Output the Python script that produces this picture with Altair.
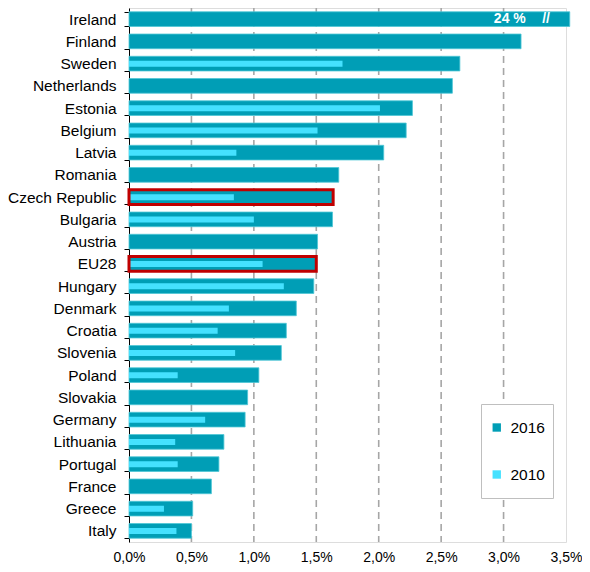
import altair as alt
import pandas as pd

countries = ["Ireland", "Finland", "Sweden", "Netherlands", "Estonia", "Belgium", "Latvia",
             "Romania", "Czech Republic", "Bulgaria", "Austria", "EU28", "Hungary", "Denmark",
             "Croatia", "Slovenia", "Poland", "Slovakia", "Germany", "Lithuania", "Portugal",
             "France", "Greece", "Italy"]
v2016 = [24.0, 3.14, 2.65, 2.59, 2.27, 2.22, 2.04, 1.68, 1.635, 1.63, 1.51, 1.50, 1.48, 1.34,
         1.26, 1.22, 1.04, 0.95, 0.93, 0.76, 0.72, 0.66, 0.51, 0.50]
v2010 = [None, None, 1.71, None, 2.01, 1.51, 0.86, None, 0.84, 1.00, None, 1.07, 1.24, 0.80,
         0.71, 0.85, 0.39, None, 0.61, 0.37, 0.39, None, 0.28, 0.38]
highlighted = ["Czech Republic", "EU28"]
grid_values = [0.5, 1.0, 1.5, 2.0, 2.5, 3.0]
axis_max = 3.5
note_texts = ["24 %", "//"]
note_x = [3.05, 3.34]
note_country = ["Ireland", "Ireland"]

C2016 = "#009EB6"
C2010 = "#45E1FF"

rows = []
for c, a, b in zip(countries, v2016, v2010):
    rows.append({"Country": c, "Year": "2016", "Value": a, "Shown": min(a, axis_max + 0.03),
                 "HL": c in highlighted})
    if b is not None:
        rows.append({"Country": c, "Year": "2010", "Value": b, "Shown": b, "HL": False})
df = pd.DataFrame(rows)
grid_df = pd.DataFrame({"g": grid_values})
note_df = pd.DataFrame({"Country": note_country, "x": note_x, "t": note_texts})

W, H = 437, 534

xscale = alt.Scale(domain=[0, axis_max], nice=False, zero=True)
yscale = alt.Scale(paddingInner=0.34, paddingOuter=0.17)
ysort = countries

x_axis = alt.Axis(
    values=[0, 0.5, 1.0, 1.5, 2.0, 2.5, 3.0, 3.5],
    labelExpr="replace(format(datum.value, '.1f'), '.', ',') + '%'",
    grid=False, domain=False, ticks=False, labelPadding=8, labelFlush=False,
    labelFontSize=14, labelColor="black", labelFont="Liberation Sans", title=None,
)
y_axis = alt.Axis(
    title=None, labelFontSize=15.5, labelColor="black", labelFont="Liberation Sans",
    domainColor="black", domainWidth=1, tickColor="black", tickSize=5, tickBand="extent",
    labelPadding=8, grid=False,
)

color = alt.Color(
    "Year:N",
    scale=alt.Scale(domain=["2016", "2010"], range=[C2016, C2010]),
    legend=alt.Legend(
        title=None, orient="none", legendX=352, legendY=396, direction="vertical",
        fillColor="white", strokeColor="#BFBFBF", padding=8, rowPadding=16, clipHeight=31,
        symbolType="square", symbolSize=70, symbolStrokeWidth=0,
        labelFontSize=15.5, labelFont="Liberation Sans", labelColor="black", labelOffset=6,
    ),
)

grid = alt.Chart(grid_df).mark_rule(color="#A6A6A6", strokeWidth=1.6, strokeDash=[7, 5]).encode(
    x=alt.X("g:Q", scale=xscale, axis=x_axis),
)

bars16 = alt.Chart(df).transform_filter(alt.datum.Year == "2016").mark_bar(
    stroke="#4EC6D6", strokeWidth=0.8, clip=False
).encode(
    x=alt.X("Shown:Q", scale=xscale, axis=x_axis),
    y=alt.Y("Country:N", sort=ysort, scale=yscale, axis=y_axis),
    color=color,
)

bars10 = alt.Chart(df).transform_filter(alt.datum.Year == "2010").mark_bar(size=6).encode(
    x=alt.X("Shown:Q", scale=xscale),
    y=alt.Y("Country:N", sort=ysort, scale=yscale),
    color=color,
)

boxes = alt.Chart(df).transform_filter("datum.HL").mark_bar(
    fill=None, fillOpacity=0, stroke="#C00000", strokeWidth=3
).encode(
    x=alt.X("Shown:Q", scale=xscale),
    y=alt.Y("Country:N", sort=ysort, scale=yscale),
)

notes = alt.Chart(note_df).mark_text(
    color="white", fontWeight="bold", fontSize=14, font="Liberation Sans", align="center", baseline="middle"
).encode(
    x=alt.X("x:Q", scale=xscale),
    y=alt.Y("Country:N", sort=ysort, scale=yscale),
    text="t:N",
)

chart = alt.layer(grid, bars16, bars10, boxes, notes).properties(
    width=W, height=H,
    autosize=alt.AutoSizeParams(type="none"),
    padding={"left": 121, "top": 0, "right": 16, "bottom": 22},
).configure_view(
    stroke="#A6A6A6", strokeWidth=2
).configure(background="white")

chart.save("out.html", embed_options={"renderer": "svg", "actions": False})
